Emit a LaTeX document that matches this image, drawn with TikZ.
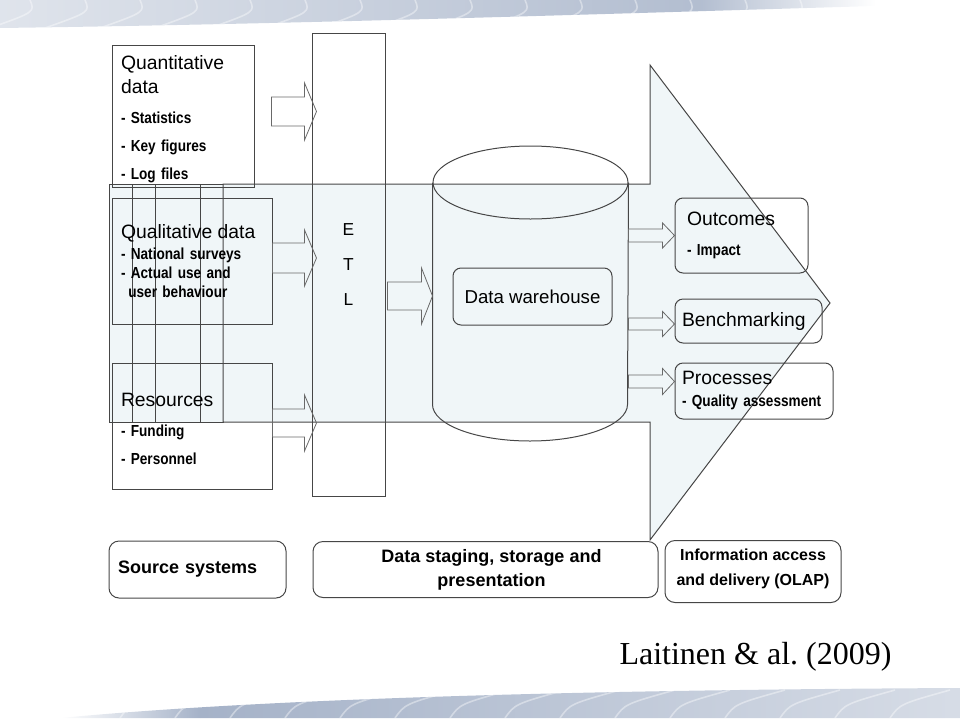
\documentclass[tikz,border=0pt]{standalone}
\usepackage{fontspec}
\setmainfont{Liberation Sans}
\newfontfamily\narrowfont[FakeStretch=0.85,WordSpace=0.8]{Liberation Sans}
\newfontfamily\citefont{Liberation Serif}
\usetikzlibrary{calc,positioning}
\definecolor{flowfill}{RGB}{240,246,248}
\definecolor{edgegray}{RGB}{70,70,70}
\definecolor{arrowgray}{RGB}{105,105,105}
\definecolor{bandblue}{RGB}{165,178,200}
\newcommand{\titlefont}{\fontsize{14.5}{17}\selectfont}
\newcommand{\itemfont}{\narrowfont\bfseries\fontsize{12}{14}\selectfont}
\newcommand{\blockarrow}[5]{%
  \draw[hollow] let \p1=(#1), \p2=(#2) in
    (\x1,{\y1+#3}) -- ({\x2-#5},{\y1+#3}) -- ({\x2-#5},{\y1+#4}) -- (\x2,\y1)
    -- ({\x2-#5},{\y1-#4}) -- ({\x2-#5},{\y1-#3}) -- (\x1,{\y1-#3}) -- cycle;}

\begin{document}
\begin{tikzpicture}[x=0.75pt, y=-0.75pt, line width=0.75pt,
    plain/.style={draw=edgegray, inner xsep=6.75pt, inner ysep=0pt, align=left},
    soft/.style={plain, rounded corners=6pt},
    hollow/.style={draw=arrowgray, line width=0.6pt},
    flow/.style={fill=flowfill, draw=edgegray},
    ripple/.style={white, opacity=0.4, line width=1.2pt}
]
\useasboundingbox (0,0) rectangle (960,718);

\begin{scope}
\clip (0,0) -- (875,0) -- (875,6) .. controls (600,14) and (300,24) .. (0,28) -- cycle;
\shade[left color=bandblue!35, right color=bandblue!85] (0,0) rectangle (700,30);
\shade[left color=bandblue!85, right color=white] (700,0) rectangle (876,30);
\foreach \rx in {30,85,...,800}
  \draw[ripple] (\rx,0) .. controls (\rx+5,12) .. (\rx-40,28);
\end{scope}
\begin{scope}
\clip (60,718) .. controls (250,700) and (550,690) .. (960,688) -- (960,718) -- cycle;
\shade[left color=white, right color=bandblue] (60,686) rectangle (200,718);
\shade[left color=bandblue, right color=bandblue!45] (200,686) rectangle (960,718);
\foreach \rx in {120,175,...,940}
  \draw[ripple] (\rx,718) .. controls (\rx+10,704) .. (\rx+60,690);
\end{scope}

\fill[flowfill] (109,184) rectangle (223,422);
\draw[edgegray] (109,184) rectangle (223,422) (132,184) -- (132,422)
  (155,184) -- (155,422) (200,184) -- (200,422);
\draw[flow] (223,184) -- (650,184) -- (650,65) -- (830,303) -- (650,540)
  -- (650,422) -- (223,422) -- cycle;

\node[plain, minimum width=106.5pt, minimum height=106.5pt, text width=93pt,
      font=\fontsize{12}{21}\selectfont] (quant) at (183,116)
  {{\titlefont\rule{0pt}{15pt}Quantitative}\\[-3pt]{\titlefont data}\\[1.5pt]{\itemfont - Statistics}\\
   {\itemfont - Key figures}\\{\itemfont - Log files}};
\node[plain, minimum width=120pt, minimum height=94.5pt, text width=106.5pt,
      font=\fontsize{12}{14}\selectfont] (qual) at (192,261)
  {{\titlefont Qualitative data}\\[1.75pt]{\itemfont - National surveys}\\
   {\itemfont - Actual use and}\\[0.25pt]{\itemfont\hspace*{5.5pt}user behaviour}};
\node[plain, minimum width=120pt, minimum height=94.5pt, text width=106.5pt,
      font=\fontsize{12}{21}\selectfont] (res) at (192,426)
  {{\titlefont\rule{0pt}{15pt}Resources}\\[1.5pt]{\itemfont - Funding}\\{\itemfont - Personnel}};
\node[draw=edgegray, minimum width=54.75pt, minimum height=347.25pt, align=center,
      font=\fontsize{13}{26.5}\selectfont] (etl) at (348.5,264.5) {E\\T\\L};

\node[minimum width=146.25pt, minimum height=165.75pt, inner sep=0pt] (store) at (530.5,293.5) {};
\draw[edgegray] (store.north west) -- (store.south west)
  arc[start angle=180, end angle=0, x radius=97.5, y radius=36.5] -- (store.north east);
\draw[edgegray] (store.north) ellipse[x radius=97.5, y radius=36.5];
\node[draw=edgegray, rounded corners=6pt, minimum width=119.25pt, minimum height=42.75pt,
      font=\fontsize{14}{17}\selectfont] (dw) at (532.5,296.5) {Data warehouse};

\node[soft, inner xsep=9pt, minimum width=99.75pt, minimum height=56.25pt, text width=81.75pt,
      font=\fontsize{12}{22.5}\selectfont] (out) at (741.5,235.5)
  {{\titlefont Outcomes}\\{\itemfont - Impact}};
\node[soft, inner xsep=5.25pt, minimum width=110.25pt, minimum height=33pt, text width=99.75pt,
      font=\titlefont] (bench) at (748.5,321) {Benchmarking};
\node[soft, inner xsep=5.25pt, minimum width=118.5pt, minimum height=42pt, text width=108pt,
      font=\fontsize{12}{16.5}\selectfont] (proc) at (754,391)
  {{\titlefont Processes}\\{\itemfont - Quality assessment}};

\node[soft, rounded corners=7.5pt, minimum width=132.75pt, minimum height=42.75pt,
      text width=119.25pt, font=\bfseries\fontsize{13.5}{16}\selectfont] (src) at (197.5,569.5)
  {Source systems};
\node[soft, rounded corners=7.5pt, align=center, minimum width=258.75pt, minimum height=42pt,
      font=\bfseries\fontsize{13.5}{18}\selectfont, right=19.5pt of src] (stage)
  {\hspace*{9pt}Data staging, storage and\\\hspace*{9pt}presentation\rule[-1.5pt]{0pt}{0pt}};
\node[soft, rounded corners=7.5pt, align=center, minimum width=132pt, minimum height=46.5pt,
      font=\bfseries\fontsize{12}{18.75}\selectfont, right=4.5pt of stage, yshift=-1.5pt] (info)
  {Information access\\and delivery (OLAP)\rule[-6pt]{0pt}{6pt}};

\node[font=\citefont\fontsize{24}{28}\selectfont, anchor=base west, inner sep=0pt] (cite)
  at (619,664) {Laitinen \& al.\ (2009)};

\blockarrow{$(quant.east)+(17,-4.5)$}{$(etl.west)+(5,0)$}{10.9pt}{21.4pt}{9pt}
\blockarrow{$(qual.east)+(0,-3)$}{$(etl.west)+(5,0)$}{11.25pt}{21pt}{9pt}
\blockarrow{$(res.east)+(0,-3)$}{$(etl.west)+(5,0)$}{10.5pt}{21pt}{9pt}
\blockarrow{$(etl.east)+(2,31.5)$}{store.west}{10.5pt}{21pt}{8.25pt}
\blockarrow{store.east |- out.west}{out.west}{4.9pt}{9.4pt}{9pt}
\blockarrow{$(store.east |- bench.west)+(0,3)$}{bench.west}{4.5pt}{9.4pt}{9pt}
\blockarrow{$(store.east |- proc.west)+(0,-9.5)$}{proc.west}{4.9pt}{9.75pt}{9pt}
\end{tikzpicture}
\end{document}
